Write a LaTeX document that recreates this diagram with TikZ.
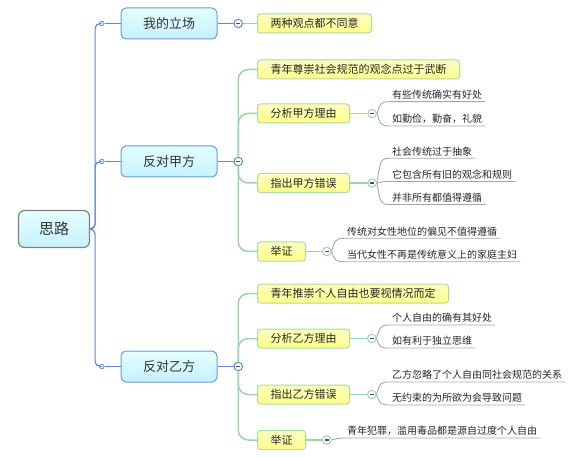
\documentclass[tikz,border=0pt]{standalone}
\usepackage{fontspec}
\newfontfamily\cjk{Noto Sans CJK SC}
\usetikzlibrary{positioning}
\definecolor{trunkblue}{HTML}{5B8BD0}
\definecolor{topicline}{HTML}{6A9BD8}
\definecolor{topictop}{HTML}{E4FFFF}
\definecolor{topicbot}{HTML}{C6F1FF}
\definecolor{rootline}{HTML}{808080}
\definecolor{subline}{HTML}{A9DCA0}
\definecolor{subtop}{HTML}{FFFFC0}
\definecolor{subbot}{HTML}{FFFF8A}
\definecolor{branchgreen}{HTML}{9AD6A6}
\definecolor{twiggray}{HTML}{A6A6A6}

\begin{document}
\begin{tikzpicture}[x=1pt, y=-1pt,
  rootbox/.style={draw=rootline, line width=1.2pt, rounded corners=6pt, top color=topictop, bottom color=topicbot, minimum width=71pt, minimum height=37pt, text height=13pt, text depth=1.6pt, font=\cjk\fontsize{15}{18}\selectfont, text=black!80},
  topic/.style={draw=topicline, line width=1pt, rounded corners=5pt, top color=topictop, bottom color=topicbot, minimum width=96pt, minimum height=31pt, text height=11.3pt, text depth=1.5pt, font=\cjk\fontsize{13}{15}\selectfont, text=black!80},
  sub/.style={anchor=west, draw=subline, line width=1pt, rounded corners=3pt, top color=subtop, bottom color=subbot, minimum height=19pt, inner xsep=13pt, inner ysep=0pt, text height=9.9pt, text depth=1.5pt, font=\cjk\fontsize{11}{13}\selectfont, text=black!85},
  leaf/.style={anchor=south west, inner xsep=3pt, inner ysep=1.5pt, text height=8.5pt, text depth=1.5pt, font=\cjk\fontsize{10}{12}\selectfont, text=black!85},
  dot/.style={circle, draw=trunkblue, fill=white, line width=0.8pt, minimum size=4.5pt, inner sep=0pt},
  fold/.style={circle, fill=white, line width=1pt, minimum size=8.5pt, inner sep=0pt, path picture={\draw[line width=1.1pt, black!70] ([xshift=2.2pt]path picture bounding box.west) -- ([xshift=-2.2pt]path picture bounding box.east);}},
  trunk/.style={draw=trunkblue, line width=1.2pt, rounded corners=5pt},
  branch/.style={draw=branchgreen, line width=1.5pt, rounded corners=10pt},
  twig/.style={draw=twiggray, line width=0.9pt}]
  \useasboundingbox (0,0) rectangle (573,457);

  % centre and first level
  \node[rootbox] (root) at (54,229) {思路};
  \node[topic] (stand) at (169,23.5) {我的立场};
  \node[topic] (oppA) at (169,161.5) {反对甲方};
  \node[topic] (oppB) at (169,366.5) {反对乙方};
  \node[dot, left=16pt of stand] (d1) {};
  \node[dot, left=16pt of oppA] (d2) {};
  \node[dot, left=16pt of oppB] (d3) {};
  \node[fold, draw=trunkblue, right=16pt of stand] (f1) {};
  \node[fold, draw=trunkblue, right=16pt of oppA] (f2) {};
  \node[fold, draw=trunkblue, right=16pt of oppB] (f3) {};

  % second level
  \node[sub] (s0) at (257,23.5) {两种观点都不同意};
  \node[sub] (a1) at (257,69.5) {青年尊崇社会规范的观念点过于武断};
  \node[sub] (a2) at (257,113.5) {分析甲方理由};
  \node[sub] (a3) at (257,183) {指出甲方错误};
  \node[sub] (a4) at (257,251.5) {举证};
  \node[sub] (b1) at (257,293.5) {青年推崇个人自由也要视情况而定};
  \node[sub] (b2) at (257,338.5) {分析乙方理由};
  \node[sub] (b3) at (257,394.5) {指出乙方错误};
  \node[sub] (b4) at (257,440) {举证};
  \node[fold, draw=branchgreen, right=17.5pt of a2] (fa2) {};
  \node[fold, draw=branchgreen, right=17.5pt of a3] (fa3) {};
  \node[fold, draw=branchgreen, right=16pt of a4] (fa4) {};
  \node[fold, draw=branchgreen, right=17pt of b2] (fb2) {};
  \node[fold, draw=branchgreen, right=17pt of b3] (fb3) {};
  \node[fold, draw=branchgreen, right=16pt of b4] (fb4) {};

  % leaves
  \node[leaf] (a21) at (389,101.7) {有些传统确实有好处};
  \node[leaf] (a22) at (389,126) {如勤俭，勤奋，礼貌};
  \node[leaf] (a31) at (389,158.3) {社会传统过于抽象};
  \node[leaf] (a32) at (389,181.5) {它包含所有旧的观念和规则};
  \node[leaf] (a33) at (389,204.5) {并非所有都值得遵循};
  \node[leaf] (a41) at (344,238.3) {传统对女性地位的偏见不值得遵循};
  \node[leaf] (a42) at (344,261.7) {当代女性不再是传统意义上的家庭主妇};
  \node[leaf] (b21) at (389,325) {个人自由的确有其好处};
  \node[leaf] (b22) at (389,348) {如有利于独立思维};
  \node[leaf] (b31) at (389,382) {乙方忽略了个人自由同社会规范的关系};
  \node[leaf] (b32) at (389,405) {无约束的为所欲为会导致问题};
  \node[leaf] (b41) at (344,438) {青年犯罪，滥用毒品都是源自过度个人自由};

  % connectors
  \draw[trunk] (root.east) -- ++(5,0) |- (d1);
  \draw[trunk] (root.east) -- ++(5,0) |- (d2);
  \draw[trunk] (root.east) -- ++(5,0) |- (d3);
  \draw[trunk] (d1) -- (stand);
  \draw[trunk] (d2) -- (oppA);
  \draw[trunk] (d3) -- (oppB);
  \draw[trunk] (stand) -- (f1);
  \draw[trunk] (oppA) -- (f2);
  \draw[trunk] (oppB) -- (f3);

  \draw[branch] (f1) -- (s0);
  \draw[branch] (f2.north) |- (a1);
  \draw[branch] (f2.north) |- (a2);
  \draw[branch] (f2.south) |- (a3);
  \draw[branch] (f2.south) |- (a4);
  \draw[branch] (f3.north) |- (b1);
  \draw[branch] (f3.north) |- (b2);
  \draw[branch] (f3.south) |- (b3);
  \draw[branch] (f3.south) |- (b4);
  \draw[branch] (a2) -- (fa2);
  \draw[branch] (a3) -- (fa3);
  \draw[branch] (a4) -- (fa4);
  \draw[branch] (b2) -- (fb2);
  \draw[branch] (b3) -- (fb3);
  \draw[branch] (b4) -- (fb4);

  \draw[twig] (fa2.east) .. controls +(3,-10) and +(-8,0) .. (a21.south west) -- (a21.south east);
  \draw[twig] (fa2.east) .. controls +(3,10) and +(-8,0) .. (a22.south west) -- (a22.south east);
  \draw[twig] (fa3.east) .. controls +(3,-22) and +(-8,0) .. (a31.south west) -- (a31.south east);
  \draw[twig] (fa3.east) .. controls +(4,-1) and +(-6,0) .. (a32.south west) -- (a32.south east);
  \draw[twig] (fa3.east) .. controls +(3,20) and +(-8,0) .. (a33.south west) -- (a33.south east);
  \draw[twig] (fa4.east) .. controls +(3,-11) and +(-8,0) .. (a41.south west) -- (a41.south east);
  \draw[twig] (fa4.east) .. controls +(3,9) and +(-8,0) .. (a42.south west) -- (a42.south east);
  \draw[twig] (fb2.east) .. controls +(3,-11) and +(-8,0) .. (b21.south west) -- (b21.south east);
  \draw[twig] (fb2.east) .. controls +(3,9) and +(-8,0) .. (b22.south west) -- (b22.south east);
  \draw[twig] (fb3.east) .. controls +(3,-11) and +(-8,0) .. (b31.south west) -- (b31.south east);
  \draw[twig] (fb3.east) .. controls +(3,9) and +(-8,0) .. (b32.south west) -- (b32.south east);
  \draw[twig] (fb4.east) .. controls +(4,-1) and +(-6,0) .. (b41.south west) -- (b41.south east);
\end{tikzpicture}
\end{document}
